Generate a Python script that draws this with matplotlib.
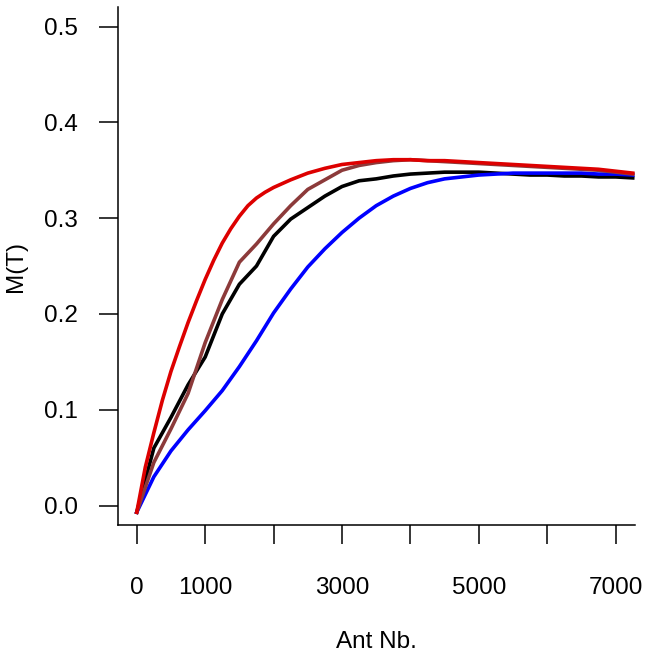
import matplotlib
matplotlib.use("Agg")
import matplotlib.pyplot as plt
import numpy as np

plt.rcParams["font.family"] = ["Liberation Sans", "DejaVu Sans"]

ant_nb = np.arange(0, 7251, 250)

# M(T), one value per 250 ants
m_black = [-0.007, 0.060, 0.092, 0.126, 0.155, 0.200, 0.231, 0.250, 0.281, 0.299,
           0.311, 0.323, 0.333, 0.339, 0.341, 0.344, 0.346, 0.347, 0.348, 0.348,
           0.348, 0.347, 0.346, 0.345, 0.345, 0.344, 0.344, 0.343, 0.343, 0.342]
m_blue = [-0.007, 0.030, 0.057, 0.079, 0.099, 0.120, 0.145, 0.172, 0.201, 0.226,
          0.249, 0.268, 0.285, 0.300, 0.313, 0.323, 0.331, 0.337, 0.341, 0.343,
          0.345, 0.346, 0.347, 0.347, 0.347, 0.347, 0.347, 0.346, 0.346, 0.345]
m_brown = [-0.007, 0.045, 0.080, 0.117, 0.170, 0.215, 0.254, 0.273, 0.294, 0.313,
           0.330, 0.340, 0.350, 0.355, 0.358, 0.360, 0.361, 0.360, 0.359, 0.358,
           0.357, 0.356, 0.355, 0.354, 0.353, 0.352, 0.351, 0.350, 0.348, 0.346]

# the red run is sampled finer where it bends
red_x = [0, 125, 250, 375, 500, 625, 750, 875, 1000, 1125, 1250, 1375, 1500,
         1625, 1750, 1875, 2000, 2250, 2500, 2750, 3000, 3250, 3500, 3750, 4000,
         4250, 4500, 4750, 5000, 5250, 5500, 5750, 6000, 6250, 6500, 6750, 7000, 7250]
m_red = [-0.007, 0.040, 0.076, 0.110, 0.140, 0.166, 0.191, 0.214, 0.236, 0.256,
         0.274, 0.289, 0.302, 0.313, 0.321, 0.327, 0.332, 0.340, 0.347, 0.352,
         0.356, 0.358, 0.360, 0.361, 0.361, 0.360, 0.360, 0.359, 0.358, 0.357,
         0.356, 0.355, 0.354, 0.353, 0.352, 0.351, 0.349, 0.347]

x_ticks = [0, 1000, 2000, 3000, 4000, 5000, 6000, 7000]
x_tick_labels = ["0", "1000", "", "3000", "", "5000", "", "7000"]
y_ticks = [0.0, 0.1, 0.2, 0.3, 0.4, 0.5]

fig = plt.figure(figsize=(6.49, 6.59), dpi=100)
ax = fig.add_axes([0.1812, 0.2038, 0.7969, 0.785])

lw = 2.6
ax.plot(ant_nb, m_black, color="black", lw=lw)
ax.plot(ant_nb, m_blue, color="#0000FF", lw=lw)
ax.plot(ant_nb, m_brown, color="#8C3A3A", lw=lw)
ax.plot(red_x, m_red, color="#DD0000", lw=lw)

ax.set_xlim(-280, 7280)
ax.set_ylim(-0.02, 0.52)

for side in ["top", "right"]:
    ax.spines[side].set_visible(False)
for side in ["left", "bottom"]:
    ax.spines[side].set_linewidth(1.1)

ax.set_xticks(x_ticks)
ax.set_xticklabels(x_tick_labels)
ax.set_yticks(y_ticks)
ax.set_yticklabels([f"{v:.1f}" for v in y_ticks])
ax.tick_params(axis="x", direction="out", length=14, width=1.1, pad=24, labelsize=17.5)
ax.tick_params(axis="y", direction="out", length=14, width=1.1, pad=14.5, labelsize=17.5)

ax.set_xlabel("Ant Nb.", fontsize=17.5, labelpad=23)
ax.set_ylabel("M(T)", fontsize=17.5, labelpad=12)

fig.savefig("out.png", dpi=100)
